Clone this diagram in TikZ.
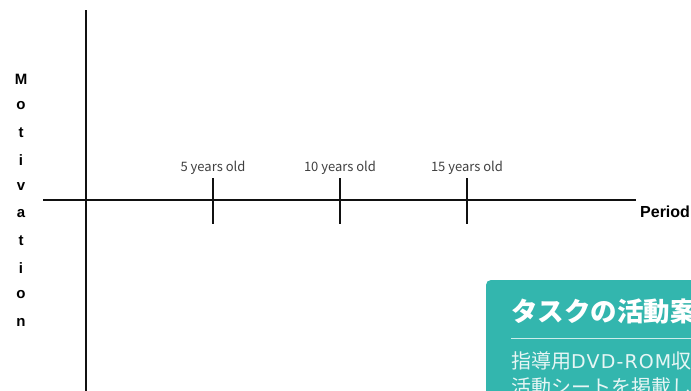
\documentclass[tikz,border=0pt]{standalone}
\usepackage{fontspec}
\setmainfont{Liberation Sans}
\newfontfamily\jp{Noto Sans CJK JP}
\newfontfamily\widelat[LetterSpace=6]{DejaVu Sans}
\definecolor{teal1}{HTML}{33B6AE}
\definecolor{ink}{HTML}{111111}
\begin{document}
\begin{tikzpicture}[x=1pt,y=-1pt,
  axis/.style={line width=1.6pt,draw=ink},
  age/.style={font=\jp\fontsize{13}{15}\selectfont,text=black!75,inner sep=0pt},
  vlet/.style={font=\bfseries\fontsize{15}{17}\selectfont,inner sep=0pt},
  body/.style={anchor=west,text=white!88!teal1,font=\jp\fontsize{20}{22}\selectfont,inner sep=0pt}]
\useasboundingbox (0,0) rectangle (691,391);
\clip (0,0) rectangle (691,391);
\fill[white] (0,0) rectangle (691,391);
% axes
\coordinate (vtop) at (86,10);
\coordinate (vbot) at (86,391);
\coordinate (hl) at (43,200);
\coordinate (hr) at (636,200);
\draw[axis] (vtop) -- (vbot);
\draw[axis] (hl) -- (hr);
% ticks
\foreach \x/\n/\t in {213/a/5, 340/b/10, 467/c/15}{
  \coordinate (\n t) at (\x,178);
  \coordinate (\n b) at (\x,224);
  \draw[axis] (\n t) -- (\n b);
  \node[age] (\n l) at (\x,167.5) {\t\ years old};
}
\node[font=\bfseries\fontsize{16}{18}\selectfont,anchor=west,inner sep=0pt] (period) at (640,212) {Period};
% Motivation
\foreach \c [count=\i from 0] in {M,o,t,i,v,a,t,i,o,n}{
  \node[vlet] (m\i) at (21,79+27*\i) {\c};
}
% overlay card
\fill[black!15,rounded corners=5pt] (487,282) rectangle (720,420);
\fill[teal1,rounded corners=5pt] (486,280) rectangle (720,420);
\node[anchor=west,text=white,font=\jp\bfseries\fontsize{26.5}{29}\selectfont,inner sep=0pt] (title) at (511,312) {タスクの活動案};
\coordinate (ll) at (511,338);
\coordinate (lr) at (720,338);
\draw[white!75!teal1,line width=0.8pt] (ll) -- (lr);
\node[body] (body1) at (511,361) {指導用{\widelat\fontsize{19}{22}\selectfont DVD-ROM}収録};
\node[body] (body2) at (511,387) {活動シートを掲載し};
\end{tikzpicture}
\end{document}
